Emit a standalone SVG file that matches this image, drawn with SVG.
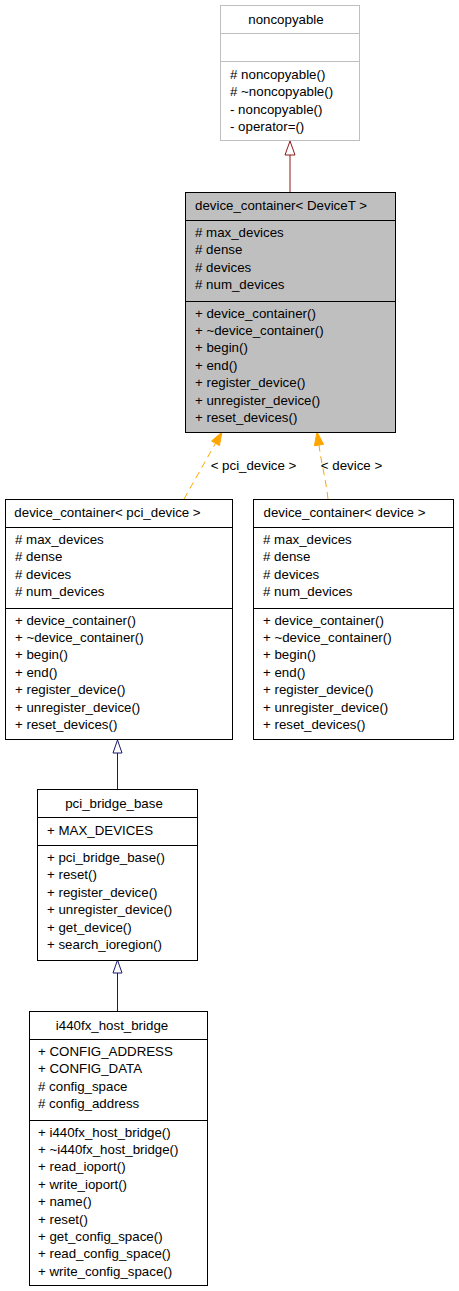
<svg xmlns="http://www.w3.org/2000/svg" width="459" height="1291" viewBox="0 0 459 1291">
<defs>
<style>
text{font-family:"Liberation Sans",Arial,sans-serif;font-size:13.3px;fill:#000}
.t{text-anchor:middle}
.box{fill:#fff;stroke:#000;stroke-width:1}
.gray{fill:#bfbfbf;stroke:#000;stroke-width:1}
.light{fill:#fff;stroke:#bfbfbf;stroke-width:1}
.div{stroke:#000;stroke-width:1}
.divl{stroke:#bfbfbf;stroke-width:1}
.priv{stroke:#8b1a1a;stroke-width:1;fill:none}
.privh{stroke:#8b1a1a;stroke-width:1;fill:#fff}
.pub{stroke:#191970;stroke-width:1;fill:none}
.pubh{stroke:#191970;stroke-width:1;fill:#fff}
.tmpl{stroke:#ffa500;stroke-width:1;fill:none;stroke-dasharray:7,5}
.tmplh{stroke:#ffa500;stroke-width:1;fill:#ffa500}
</style>
</defs>
<rect width="459" height="1291" fill="#fff"/>

<g id="connectors">
<line class="priv" x1="290" y1="192" x2="290" y2="155"/>
<polygon class="privh" points="290,141 285,155 295,155"/>
<path class="tmpl" d="M184,499 L215.5,443.3"/>
<polygon class="tmplh" points="222,432 219.4,445.6 211.6,441"/>
<path class="tmpl" d="M328,499 C326,480 321,462 319,445"/>
<polygon class="tmplh" points="317,432 323.6,444.3 314.4,445.7"/>
<text class="t" x="253.5" y="470">&lt; pci_device &gt;</text>
<text class="t" x="351.5" y="470">&lt; device &gt;</text>
<line class="pub" x1="117.5" y1="789" x2="117.5" y2="753"/>
<polygon class="pubh" points="117.5,740 113,753 122,753"/>
<line class="pub" x1="117.5" y1="1011" x2="117.5" y2="973"/>
<polygon class="pubh" points="117.5,960 113,973 122,973"/>
</g>

<g id="noncopyable">
<rect class="light" x="220.5" y="5.5" width="139" height="135"/>
<line class="divl" x1="220.5" y1="33.5" x2="359.5" y2="33.5"/>
<line class="divl" x1="220.5" y1="61.5" x2="359.5" y2="61.5"/>
<text class="t" x="286" y="23.5">noncopyable</text>
<text x="230" y="79"># noncopyable()</text>
<text x="230" y="96.4"># ~noncopyable()</text>
<text x="230" y="113.8">- noncopyable()</text>
<text x="230" y="131.2">- operator=()</text>
</g>

<g id="device_container_DeviceT">
<rect class="gray" x="185.5" y="192.5" width="210" height="240"/>
<line class="div" x1="185.5" y1="220.5" x2="395.5" y2="220.5"/>
<line class="div" x1="185.5" y1="301.5" x2="395.5" y2="301.5"/>
<text class="t" x="281" y="210">device_container&lt; DeviceT &gt;</text>
<text x="195" y="237"># max_devices</text>
<text x="195" y="254.4"># dense</text>
<text x="195" y="271.8"># devices</text>
<text x="195" y="289.2"># num_devices</text>
<text x="195" y="317.5">+ device_container()</text>
<text x="195" y="334.9">+ ~device_container()</text>
<text x="195" y="352.3">+ begin()</text>
<text x="195" y="369.7">+ end()</text>
<text x="195" y="387.1">+ register_device()</text>
<text x="195" y="404.5">+ unregister_device()</text>
<text x="195" y="421.9">+ reset_devices()</text>
</g>

<g id="device_container_pci_device">
<rect class="box" x="5.5" y="499.5" width="227" height="240"/>
<line class="div" x1="5.5" y1="527.5" x2="232.5" y2="527.5"/>
<line class="div" x1="5.5" y1="608.5" x2="232.5" y2="608.5"/>
<text class="t" x="107.5" y="517">device_container&lt; pci_device &gt;</text>
<text x="15" y="544"># max_devices</text>
<text x="15" y="561.4"># dense</text>
<text x="15" y="578.8"># devices</text>
<text x="15" y="596.2"># num_devices</text>
<text x="15" y="624.5">+ device_container()</text>
<text x="15" y="641.9">+ ~device_container()</text>
<text x="15" y="659.3">+ begin()</text>
<text x="15" y="676.7">+ end()</text>
<text x="15" y="694.1">+ register_device()</text>
<text x="15" y="711.5">+ unregister_device()</text>
<text x="15" y="728.9">+ reset_devices()</text>
</g>

<g id="device_container_device">
<rect class="box" x="253.5" y="499.5" width="200" height="240"/>
<line class="div" x1="253.5" y1="527.5" x2="453.5" y2="527.5"/>
<line class="div" x1="253.5" y1="608.5" x2="453.5" y2="608.5"/>
<text class="t" x="344.5" y="517">device_container&lt; device &gt;</text>
<text x="263" y="544"># max_devices</text>
<text x="263" y="561.4"># dense</text>
<text x="263" y="578.8"># devices</text>
<text x="263" y="596.2"># num_devices</text>
<text x="263" y="624.5">+ device_container()</text>
<text x="263" y="641.9">+ ~device_container()</text>
<text x="263" y="659.3">+ begin()</text>
<text x="263" y="676.7">+ end()</text>
<text x="263" y="694.1">+ register_device()</text>
<text x="263" y="711.5">+ unregister_device()</text>
<text x="263" y="728.9">+ reset_devices()</text>
</g>

<g id="pci_bridge_base">
<rect class="box" x="37.5" y="789.5" width="160" height="171"/>
<line class="div" x1="37.5" y1="817.5" x2="197.5" y2="817.5"/>
<line class="div" x1="37.5" y1="845.5" x2="197.5" y2="845.5"/>
<text class="t" x="114" y="807.5">pci_bridge_base</text>
<text x="47" y="834.5">+ MAX_DEVICES</text>
<text x="47" y="862">+ pci_bridge_base()</text>
<text x="47" y="879.4">+ reset()</text>
<text x="47" y="896.8">+ register_device()</text>
<text x="47" y="914.2">+ unregister_device()</text>
<text x="47" y="931.6">+ get_device()</text>
<text x="47" y="949">+ search_ioregion()</text>
</g>

<g id="i440fx_host_bridge">
<rect class="box" x="29.5" y="1011.5" width="178" height="274"/>
<line class="div" x1="29.5" y1="1039.5" x2="207.5" y2="1039.5"/>
<line class="div" x1="29.5" y1="1120.5" x2="207.5" y2="1120.5"/>
<text class="t" x="112" y="1029.5">i440fx_host_bridge</text>
<text x="38" y="1056">+ CONFIG_ADDRESS</text>
<text x="38" y="1073.4">+ CONFIG_DATA</text>
<text x="38" y="1090.8"># config_space</text>
<text x="38" y="1108.2"># config_address</text>
<text x="38" y="1136.5">+ i440fx_host_bridge()</text>
<text x="38" y="1153.9">+ ~i440fx_host_bridge()</text>
<text x="38" y="1171.3">+ read_ioport()</text>
<text x="38" y="1188.7">+ write_ioport()</text>
<text x="38" y="1206.1">+ name()</text>
<text x="38" y="1223.5">+ reset()</text>
<text x="38" y="1240.9">+ get_config_space()</text>
<text x="38" y="1258.3">+ read_config_space()</text>
<text x="38" y="1275.7">+ write_config_space()</text>
</g>
</svg>
